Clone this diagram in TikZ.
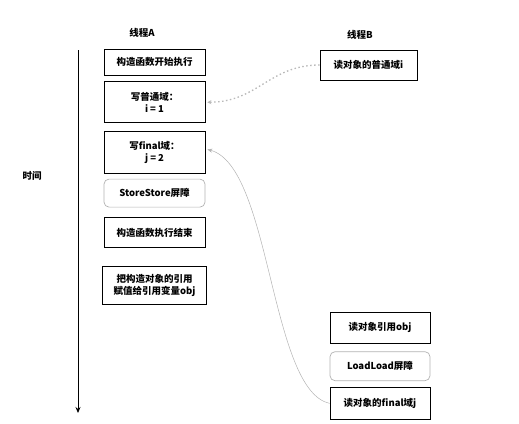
\documentclass[tikz,border=0pt]{standalone}
\usepackage{fontspec}
\setmainfont{Noto Sans CJK SC}
\usetikzlibrary{positioning, arrows.meta}

\begin{document}
\begin{tikzpicture}[
      x=1pt, y=1pt,
      node_step/.style={draw, line width=0.7pt, minimum width=101pt, inner sep=2pt, align=center, font=\fontsize{9.5}{12}\selectfont\bfseries},
      node_barrier/.style={node_step, draw=gray!60, rounded corners=5pt},
      node_head/.style={font=\fontsize{9.5}{12}\selectfont\bfseries},
      edge_time/.style={-{Stealth[length=6pt, width=5pt]}, line width=0.8pt},
      edge_plain/.style={-{Stealth[length=4pt, width=4pt]}, dash pattern=on 1.5pt off 2.5pt, line width=1.3pt, gray!55},
      edge_final/.style={-{Stealth[length=5pt, width=4pt]}, line width=0.5pt, gray!60},
      node distance=6pt
    ]
      \useasboundingbox (0,0) rectangle (519,-423);

      \node[node_head] (headA) at (142,-33) {线程A};
      \node[node_head] (headB) at (360,-35) {线程B};
      \node[node_head] (time) at (32,-176) {时间};

      \coordinate (t0) at (78,-50);
      \coordinate (t1) at (78,-413);
      \draw[edge_time] (t0) -- (t1);

      \node[node_step, minimum height=26pt] (A1) at (154.5,-62) {构造函数开始执行};
      \node[node_step, minimum height=41pt, below=6pt of A1] (A2) {写普通域：\\i = 1};
      \node[node_step, minimum height=42pt, below=8pt of A2] (A3) {写final域：\\j = 2};
      \node[node_barrier, minimum height=28pt, below=5pt of A3] (A4) {StoreStore屏障};
      \node[node_step, minimum height=30pt, below=10pt of A4] (A5) {构造函数执行结束};
      \node[node_step, minimum height=38pt, minimum width=104pt, below=18pt of A5] (A6) {把构造对象的引用\\赋值给引用变量obj};

      \node[node_step, minimum height=30pt, minimum width=97pt] (B1) at (368.5,-65) {读对象的普通域i};
      \node[node_step, minimum height=31pt, minimum width=100pt] (B2) at (380,-327.5) {读对象引用obj};
      \node[node_barrier, minimum height=29pt, minimum width=100pt, below=8pt of B2] (B3) {LoadLoad屏障};
      \node[node_step, minimum height=32pt, minimum width=100pt, below=6pt of B3] (B4) {读对象的final域j};

      \draw[edge_plain] (B1.west) .. controls +(-50,0) and +(50,0) .. ([xshift=2pt]A2.east);
      \draw[edge_final] (B4.west) .. controls +(-60,13) and +(64,-17) .. ([xshift=2pt,yshift=3pt]A3.east);
    \end{tikzpicture}
\end{document}
